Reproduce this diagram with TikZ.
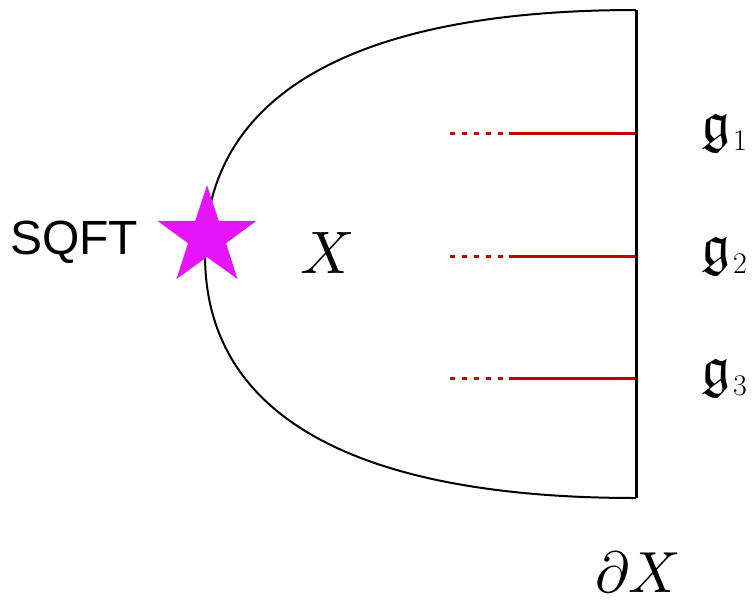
\documentclass[tikz,border=0pt]{standalone}
\usepackage{amssymb}
\usepackage{fontspec}
\newfontfamily\arialfont{Liberation Sans}
\DeclareFontShape{OML}{cmm}{m}{it}{<->cmmi10}{}
\DeclareFontShape{OT1}{cmr}{m}{n}{<->cmr10}{}
\DeclareFontShape{OMS}{cmsy}{m}{n}{<->cmsy10}{}
\definecolor{starmag}{RGB}{230,20,250}
\definecolor{linered}{RGB}{192,0,0}
\newcommand{\gsub}[1]{{\fontsize{58}{64}\selectfont$\mathfrak{g}$}\kern3pt\raisebox{-9pt}{\fontsize{30}{32}\selectfont #1}}
\begin{document}
\begin{tikzpicture}[x=1pt,y=-1pt,
  boundary/.style={line width=2pt,black},
  edge/.style={line width=3pt,black},
  solidred/.style={line width=3pt,linered},
  dotred/.style={line width=3pt,linered,dash pattern=on 5pt off 7pt},
  lbl/.style={inner sep=0pt,outer sep=0pt}]
\useasboundingbox (0,0) rectangle (755,603);
% boundary
\coordinate (top) at (636,10);
\coordinate (bot) at (636,498);
\coordinate (tip) at (205,255);
\draw[boundary] (top) .. controls (350,10) and (205,97) .. (tip)
  .. controls (205,413) and (350,498) .. (bot);
\draw[edge] (top) -- (bot);
% strings
\foreach \i/\y in {1/133,2/256,3/378}{
  \coordinate (d\i) at (450,\y);
  \coordinate (m\i) at (503,\y);
  \coordinate (s\i) at (509,\y);
  \coordinate (e\i) at (636,\y);
  \draw[dotred] (d\i) -- (m\i);
  \draw[solidred] (s\i) -- (e\i);
}
% star
\begin{scope}[shift={(207,237)}]
\fill[starmag] (-90:52) -- (-54:20) -- (-18:52) -- (18:20) -- (54:52) -- (90:20)
  -- (126:52) -- (162:20) -- (198:52) -- (234:20) -- cycle;
\end{scope}
% labels
\node[lbl] (sqft) at (74,242) {\arialfont\fontsize{48}{56}\selectfont SQFT};
\node[lbl] (X) at (328,253) {\fontsize{60}{64}\selectfont$X$};
\node[lbl,anchor=base west] (g1) at (701,141) {\gsub{1}};
\node[lbl,anchor=base west] (g2) at (701,264) {\gsub{2}};
\node[lbl,anchor=base west] (g3) at (701,386) {\gsub{3}};
\node[lbl,anchor=base west] (dX) at (595,592) {\fontsize{58}{64}\selectfont$\partial X$};
\end{tikzpicture}
\end{document}
